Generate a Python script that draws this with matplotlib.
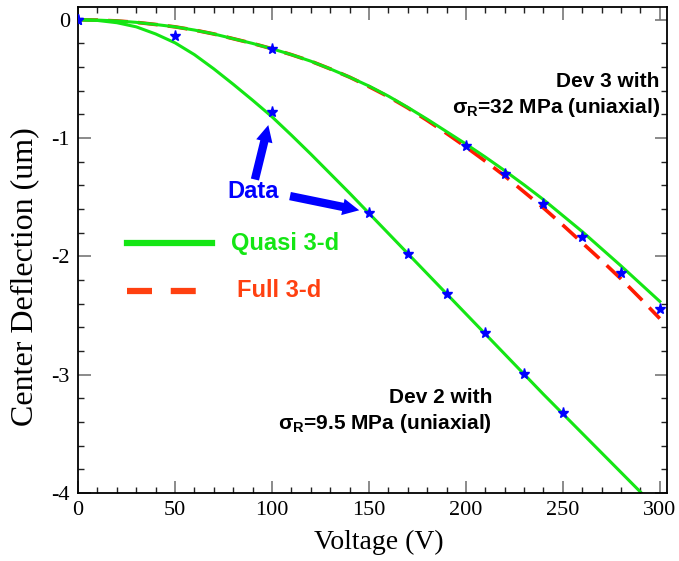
import matplotlib
matplotlib.use("Agg")
import matplotlib.pyplot as plt
from matplotlib.ticker import MultipleLocator

plt.rcParams['axes.unicode_minus'] = False
plt.rcParams['mathtext.fontset'] = 'custom'
plt.rcParams['mathtext.bf'] = 'Liberation Sans:bold'
plt.rcParams['mathtext.rm'] = 'Liberation Sans:bold'

# measured data (stars)
dev2_v = [0, 50, 100, 150, 170, 190, 210, 230, 250]
dev2_d = [0.0, -0.14, -0.78, -1.63, -1.98, -2.32, -2.65, -2.99, -3.32]
dev3_v = [0, 100, 200, 220, 240, 260, 280, 300]
dev3_d = [0.0, -0.25, -1.065, -1.30, -1.555, -1.835, -2.14, -2.44]

# model curves (every 10 V)
volts = [0, 10, 20, 30, 40, 50, 60, 70, 80, 90, 100, 110, 120, 130, 140, 150,
         160, 170, 180, 190, 200, 210, 220, 230, 240, 250, 260, 270, 280, 290, 300]
dev2_quasi = [0.0, -0.006, -0.025, -0.06, -0.12, -0.195, -0.295, -0.415, -0.545, -0.68,
              -0.82, -0.975, -1.135, -1.30, -1.465, -1.635, -1.805, -1.975, -2.145, -2.315,
              -2.485, -2.655, -2.825, -2.995, -3.165, -3.33, -3.495, -3.66, -3.825, -3.99, -4.16]
dev3_quasi = [0.0, -0.003, -0.01, -0.022, -0.04, -0.06, -0.087, -0.12, -0.16, -0.20,
              -0.245, -0.295, -0.35, -0.415, -0.485, -0.56, -0.645, -0.74, -0.84, -0.945,
              -1.05, -1.16, -1.275, -1.395, -1.52, -1.655, -1.79, -1.935, -2.08, -2.23, -2.38]
dev3_full = [0.0, -0.003, -0.01, -0.022, -0.04, -0.06, -0.087, -0.12, -0.16, -0.20,
             -0.245, -0.295, -0.35, -0.415, -0.485, -0.565, -0.65, -0.745, -0.85, -0.96,
             -1.075, -1.195, -1.32, -1.455, -1.59, -1.735, -1.885, -2.035, -2.19, -2.355, -2.525]

green = '#14e614'
blue = '#0000ff'
red = '#ff1a00'
orange = '#ff4010'

fig = plt.figure(figsize=(6.79, 5.61), dpi=100)
ax = fig.add_axes([0.115, 0.121, 0.867, 0.867])

ax.plot(volts, dev3_full, color=red, lw=2.6, dashes=(5.5, 2.8))
ax.plot(volts, dev3_quasi, color=green, lw=2.2)
ax.plot(volts, dev2_quasi, color=green, lw=2.2)
ax.plot(dev2_v, dev2_d, '*', color=blue, ms=8, zorder=5)
ax.plot(dev3_v, dev3_d, '*', color=blue, ms=8, zorder=5)

ax.set_xlim(0, 303.6)
ax.set_ylim(-4, 0.11)
ax.xaxis.set_major_locator(MultipleLocator(50))
ax.xaxis.set_minor_locator(MultipleLocator(10))
ax.yaxis.set_major_locator(MultipleLocator(1))
ax.yaxis.set_minor_locator(MultipleLocator(0.2))
ax.tick_params(which='both', direction='in', top=True, right=True)
ax.tick_params(which='major', length=9, width=1.2, color='#777777')
ax.tick_params(which='minor', length=4.5, width=1.0, color='#222222')
ax.tick_params(labelsize=16, pad=6)
for lab in ax.get_xticklabels() + ax.get_yticklabels():
    lab.set_family('Liberation Serif')
for s in ax.spines.values():
    s.set_linewidth(1.3)

ax.set_xlabel('Voltage (V)', family='Liberation Serif', fontsize=20)
ax.set_ylabel('Center Deflection (um)', family='Liberation Serif', fontsize=23)
ax.xaxis.set_label_coords(0.511, -0.075)
ax.yaxis.set_label_coords(-0.066, 0.445)

# legend drawn by hand
ax.plot([0.083, 0.228], [0.514, 0.514], transform=ax.transAxes, color=green, lw=4.5)
ax.plot([0.083, 0.228], [0.416, 0.416], transform=ax.transAxes, color=orange, lw=4.5,
        dashes=(4, 3))
ax.text(0.260, 0.514, 'Quasi 3-d', transform=ax.transAxes, color=green, fontsize=17,
        family='Liberation Sans', weight='bold', va='center')
ax.text(0.270, 0.416, 'Full 3-d', transform=ax.transAxes, color=orange, fontsize=17,
        family='Liberation Sans', weight='bold', va='center')

# "Data" label with arrows
ax.text(90.5, -1.45, 'Data', color=blue, fontsize=17, family='Liberation Sans',
        weight='bold', ha='center', va='center')
arrow = dict(arrowstyle='simple,head_length=0.6,head_width=0.6,tail_width=0.3',
             mutation_scale=20, color=blue, lw=0, shrinkA=0, shrinkB=0)
ax.annotate('', xy=(98.1, -0.89), xytext=(91.2, -1.35), arrowprops=arrow)
ax.annotate('', xy=(145.0, -1.61), xytext=(109.3, -1.49), arrowprops=arrow)

# device annotations
txt = dict(fontsize=15, family='Liberation Sans', weight='bold', ha='right', va='center')
ax.text(300, -0.52, 'Dev 3 with', **txt)
ax.text(300, -0.74, r'$\mathbf{σ_R}$=32 MPa (uniaxial)', **txt)
ax.text(213.5, -3.19, 'Dev 2 with', **txt)
ax.text(213.5, -3.41, r'$\mathbf{σ_R}$=9.5 MPa (uniaxial)', **txt)

fig.savefig('out.png', dpi=100)
